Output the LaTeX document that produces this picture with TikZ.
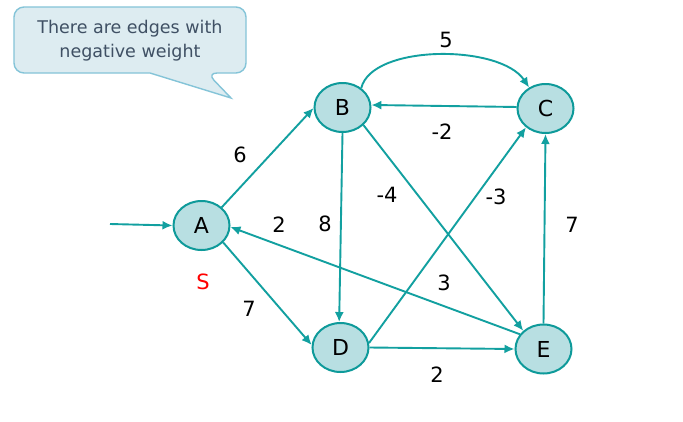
\documentclass[tikz,border=0pt]{standalone}
\usepackage{fontspec}
\setmainfont{DejaVu Sans}
\usetikzlibrary{arrows.meta,shapes.geometric}
\definecolor{edgecol}{HTML}{12A0A0}
\definecolor{nodefill}{HTML}{B8DFE2}
\definecolor{nodeline}{HTML}{0E9A9A}
\definecolor{callfill}{HTML}{DDECF1}
\definecolor{callline}{HTML}{84C4D8}
\definecolor{calltext}{HTML}{3F5064}
\tikzset{
  vertex/.style={ellipse, draw=nodeline, fill=nodefill, line width=2pt,
    minimum width=56pt, minimum height=49pt, inner sep=0pt,
    font=\fontsize{22}{26}\selectfont},
  edge/.style={draw=edgecol, line width=1.9pt, -{Latex[length=10pt,width=9pt]}},
  wlabel/.style={font=\fontsize{21}{25}\selectfont, inner sep=0pt},
  callout/.style={draw=callline, fill=callfill, line width=1.4pt},
}
\begin{document}
\begin{tikzpicture}[x=1pt,y=-1pt]
\useasboundingbox (0,0) rectangle (683,421);
\fill[white] (0,0) rectangle (683,421);
% callout
\path[callout] (14,40) [rounded corners=10pt] -- (14,7) -- (246,7) -- (246,73) -- (207,73)
  [sharp corners] -- (231,98) -- (150,73) [rounded corners=10pt] -- (14,73) -- cycle;
\node[align=center, text=calltext, font=\fontsize{17.5}{24}\selectfont] (note) at (130,41)
  {There are edges with\\negative weight};
% vertices
\node[vertex] (A) at (201.5,225.5) {A};
\node[vertex] (B) at (342.5,107.5) {B};
\node[vertex] (C) at (545.5,108.5) {C};
\node[vertex] (D) at (340.5,347.5) {D};
\node[vertex] (E) at (543.5,349) {E};
\coordinate (in) at (110,224);
% edges
\draw[edge] (in) -- (A.west);
\draw[edge] (A.42) -- (B.181);
\draw[edge] (A.-38) -- (D.175);
\draw[edge] (E.148) -- (A.-3);
\draw[edge] (B.46) .. controls (372,44) and (500,44) .. (C.128);
\draw[edge] (C.177) -- (B.5);
\draw[edge] (B.south) -- (D.93);
\draw[edge] (B.-40) -- (E.138);
\draw[edge] (D.9) -- (C.-136);
\draw[edge] (D.east) -- (E.west);
\draw[edge] (E.north) -- (C.south);
% weights
\node[wlabel] (w5) at (446,40) {5};
\node[wlabel] (wm2) at (442,132) {-2};
\node[wlabel] (w6) at (240,155) {6};
\node[wlabel] (wm4) at (387,195) {-4};
\node[wlabel] (wm3) at (496,197) {-3};
\node[wlabel] (w7a) at (572,225) {7};
\node[wlabel] (w2a) at (279,225) {2};
\node[wlabel] (w8) at (325,224) {8};
\node[wlabel] (w3) at (444,283) {3};
\node[wlabel] (w7b) at (249,309) {7};
\node[wlabel] (w2b) at (437,375) {2};
\node[wlabel, text=red] (s) at (203,282) {S};
\end{tikzpicture}
\end{document}
